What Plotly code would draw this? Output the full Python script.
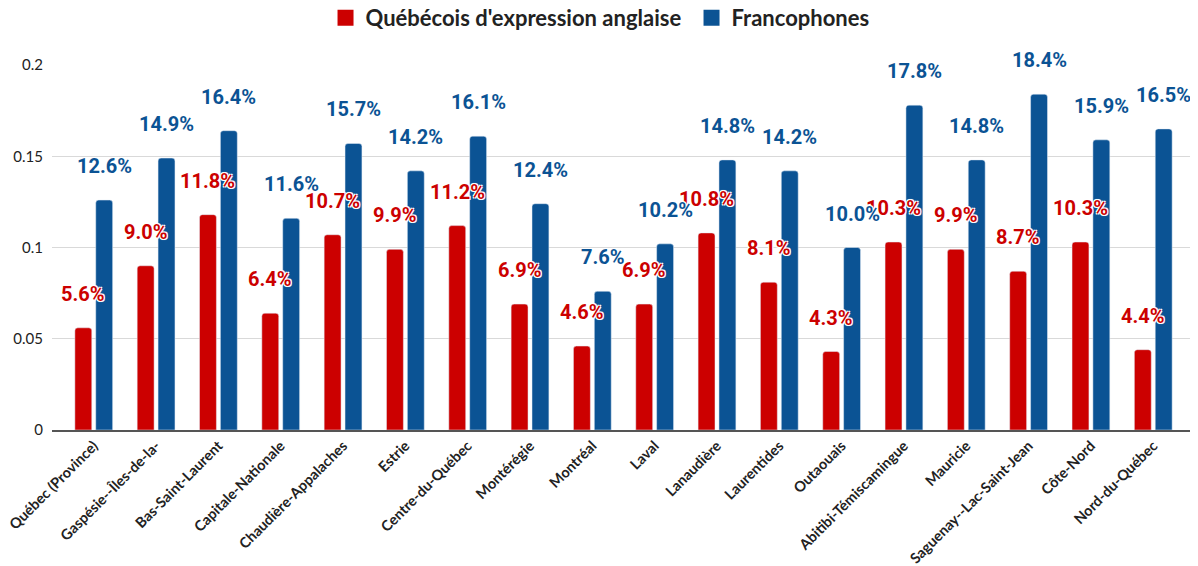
import plotly.graph_objects as go

# Data
regions = ['Québec (Province)', 'Gaspésie--Îles-de-la-', 'Bas-Saint-Laurent', 'Capitale-Nationale',
           'Chaudière-Appalaches', 'Estrie', 'Centre-du-Québec', 'Montérégie', 'Montréal', 'Laval',
           'Lanaudière', 'Laurentides', 'Outaouais', 'Abitibi-Témiscamingue', 'Mauricie',
           'Saguenay--Lac-Saint-Jean', 'Côte-Nord', 'Nord-du-Québec']
anglo = [0.056, 0.090, 0.118, 0.064, 0.107, 0.099, 0.112, 0.069, 0.046, 0.069,
         0.108, 0.081, 0.043, 0.103, 0.099, 0.087, 0.103, 0.044]
franco = [0.126, 0.149, 0.164, 0.116, 0.157, 0.142, 0.161, 0.124, 0.076, 0.102,
          0.148, 0.142, 0.100, 0.178, 0.148, 0.184, 0.159, 0.165]
y_ticks = [0, 0.05, 0.1, 0.15, 0.2]
y_tick_text = ['0', '0.05', '0.1', '0.15', '0.2']

red = '#cc0000'
blue = '#0b5394'
outline = '-1px -1px 0 #fff, 1px -1px 0 #fff, -1px 1px 0 #fff, 1px 1px 0 #fff, 0 0 2px #fff'

fig = go.Figure()
fig.add_trace(go.Bar(name="Québécois d'expression anglaise", x=regions, y=anglo,
                     marker_color=red, showlegend=False))
fig.add_trace(go.Bar(name='Francophones', x=regions, y=franco,
                     marker_color=blue, showlegend=False))

# legend entries with bigger square swatches (nbsp pads the gap between the two items)
for name, color in [("Québécois d'expression anglaise" + '\u00a0', red), ('Francophones', blue)]:
    fig.add_trace(go.Scatter(x=[None], y=[None], mode='markers', name=name,
                             marker=dict(symbol='square', size=16, color=color)))

# value labels floating above each bar
annotations = []
for series, color, shift in [(anglo, red, -10.5), (franco, blue, 10.5)]:
    for region, value in zip(regions, series):
        annotations.append(dict(
            x=region, y=value, text=f'{value * 100:.1f}%',
            xref='x', yref='y', showarrow=False,
            xshift=shift, yshift=34, yanchor='middle',
            font=dict(family='Roboto', size=20, color=color, weight='bold', shadow=outline),
        ))

# page body keeps an 8px margin, so the figure is 8px smaller than the window
fig.update_layout(
    width=1190, height=558,
    margin=dict(l=44, r=3, t=57, b=136, autoexpand=False),
    plot_bgcolor='#ffffff',
    paper_bgcolor='#ffffff',
    barmode='group',
    bargap=0.33,
    bargroupgap=0.19,
    barcornerradius=3,
    font=dict(family='Lato', color='#222222'),
    legend=dict(orientation='h', x=0.4975, xref='container', xanchor='center',
                y=0.982, yref='container', yanchor='middle',
                font=dict(size=22, weight='bold', color='#222222'),
                itemclick=False, itemwidth=30, tracegroupgap=0),
    xaxis=dict(
        range=[-0.67, 17.67],
        tickangle=-45,
        tickfont=dict(size=14.5, weight='bold', color='#222222'),
        showline=True, linecolor='#555555', linewidth=1.5,
        showgrid=False, ticks='', automargin=False,
    ),
    yaxis=dict(
        range=[0, 0.2],
        tickvals=y_ticks, ticktext=y_tick_text,
        tickfont=dict(size=15, color='#222222'),
        showgrid=True, gridcolor='#d9d9d9', gridwidth=1,
        zeroline=False, ticks='', ticklabelstandoff=8, automargin=False,
    ),
    annotations=annotations,
)

fig.write_html('out.html')
